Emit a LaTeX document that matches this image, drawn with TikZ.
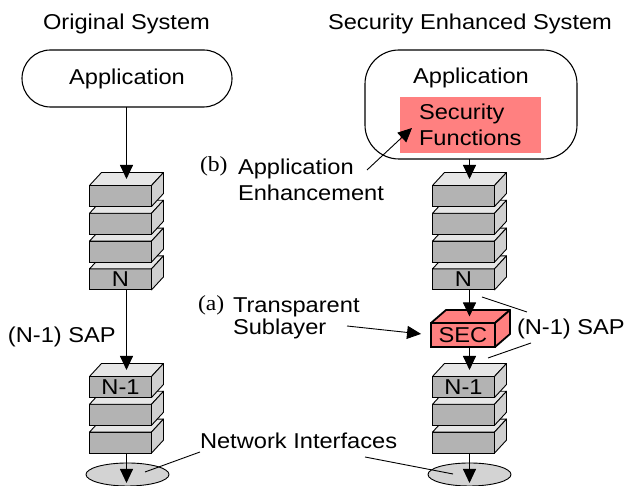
\documentclass[tikz,border=0pt]{standalone}
\usepackage{fontspec}
\setmainfont{Liberation Sans}[FakeStretch=1.1]
\newfontfamily\tagfont{Liberation Serif}[FakeStretch=1.1]
\usetikzlibrary{arrows.meta,calc,shapes.geometric}
\definecolor{secred}{HTML}{FF8080}
\definecolor{facefront}{HTML}{B3B3B3}
\definecolor{facetop}{HTML}{E6E6E6}
\definecolor{faceside}{HTML}{D0D0D0}
\definecolor{ifgray}{HTML}{D3D3D3}

% one protocol layer: front face as a node, top and side faces around it
\newcommand{\layerbox}[4]{%
    \node (#1) [layer] at (#2, #3) {#4};
    \draw[face, fill=facetop] (#1.north west) -- ++(12, 13) -- ($(#1.north east) + (12, 13)$) -- (#1.north east) -- cycle;
    \draw[face, fill=faceside] (#1.north east) -- ++(12, 13) -- ++(0, -21) -- (#1.south east) -- cycle;
    \coordinate (#1_top) at ($(#1.north) + (6, 6.5)$);
    \coordinate (#1_bot) at ($(#1.south) + (6, 0)$);
}

\begin{document}
\begin{tikzpicture}[x=1pt, y=1pt,
    every node/.style={
        font=\fontsize{21.5}{26}\selectfont,
        inner sep=0pt,
        outer sep=0pt
    },
    layer/.style={rectangle, draw, fill=facefront, line width=0.9pt,
        minimum width=62pt, minimum height=21pt},
    face/.style={draw, line width=0.9pt, line join=round},
    app/.style={rectangle, draw, line width=1.1pt},
    netif/.style={ellipse, draw, fill=ifgray, line width=0.9pt,
        minimum width=83pt, minimum height=23pt},
    flow/.style={-{Triangle[length=14pt, width=13pt]}, line width=0.9pt},
    leader/.style={line width=0.9pt}
]
    \useasboundingbox (0, 0) rectangle (625, 486);

    % titles
    \node (title_orig) [anchor=base] at (126.5, 456) {Original System};
    \node (title_sec) [anchor=base] at (470, 456) {Security Enhanced System};

    % original system
    \node (app_orig) [app, minimum width=210pt, minimum height=57pt, rounded corners=28.5pt]
        at (127, 407.5) {Application};
    \node (netif_orig) [netif] at (127.5, 11.5) {};
    \layerbox{orig_l3}{120.5}{43.4}{}
    \layerbox{orig_l2}{120.5}{71.2}{}
    \layerbox{orig_n1}{120.5}{99}{N-1}
    \layerbox{orig_n}{120.5}{206.6}{N}
    \layerbox{orig_u3}{120.5}{234.4}{}
    \layerbox{orig_u2}{120.5}{262.2}{}
    \layerbox{orig_u1}{120.5}{290}{}

    % security enhanced system
    \node (app_sec) [app, minimum width=212pt, minimum height=109pt, rounded corners=34pt]
        at (471, 381.5) {};
    \node (app_sec_label) at (471, 408) {Application};
    \node (sec_functions) [fill=secred, minimum width=141pt, minimum height=56pt,
        text width=103pt, inner xsep=19pt, align=left, font=\fontsize{21.5}{26}\selectfont]
        at (470.5, 361) {Security\\Functions};
    \node (netif_sec) [netif] at (469.5, 11.5) {};
    \layerbox{sec_l3}{463.5}{43.4}{}
    \layerbox{sec_l2}{463.5}{71.2}{}
    \layerbox{sec_n1}{463.5}{99}{N-1}
    \node (sec_sub) [rectangle, draw, fill=secred, line width=1.8pt,
        minimum width=64pt, minimum height=24pt] at (463, 151) {SEC};
    \draw[line width=1.8pt, line join=round, fill=secred] (sec_sub.north west) -- ++(15, 13)
        -- ($(sec_sub.north east) + (15, 13)$) -- (sec_sub.north east) -- cycle;
    \draw[line width=1.8pt, line join=round, fill=secred] (sec_sub.north east) -- ++(15, 13)
        -- ++(0, -24) -- (sec_sub.south east) -- cycle;
    \coordinate (sec_sub_top) at ($(sec_sub.north) + (7, 6.5)$);
    \layerbox{sec_n}{463.5}{206.6}{N}
    \layerbox{sec_u3}{463.5}{234.4}{}
    \layerbox{sec_u2}{463.5}{262.2}{}
    \layerbox{sec_u1}{463.5}{290}{}

    % labels
    \node (sap_orig) [anchor=base west] at (8, 143) {(N-1) SAP};
    \node (sap_sec) [anchor=base west] at (517, 151) {(N-1) SAP};
    \node (netif_label) [anchor=base west] at (200, 37) {Network Interfaces};
    \node (tag_b) [anchor=base west, font=\fontsize{21.5}{26}\tagfont] at (200, 314) {(b)};
    \node (label_b) [anchor=north west, align=left] at (238, 327) {Application\\Enhancement};
    \node (tag_a) [anchor=base west, font=\fontsize{21.5}{26}\tagfont] at (198, 175) {(a)};
    \node (label_a) [anchor=north west, align=left, font=\fontsize{21.5}{22}\selectfont]
        at (233, 188) {Transparent\\Sublayer};

    \coordinate (b_from) at (367, 316);
    \coordinate (b_tip) at (412, 358);
    \coordinate (a_from) at (347, 160);
    \coordinate (sap_upper) at (482, 189);
    \coordinate (sap_upper_end) at (527, 174);
    \coordinate (sap_lower) at (488, 128);
    \coordinate (sap_lower_end) at (531, 143);
    \coordinate (netif_from_l) at (200, 34);
    \coordinate (netif_to_l) at (145, 14);
    \coordinate (netif_from_r) at (365, 29);
    \coordinate (netif_to_r) at (453, 12);

    % data flow
    \draw[flow] (orig_u1_top |- app_orig.south) -- (orig_u1_top);
    \draw[flow] (orig_n_bot) -- (orig_n1_top);
    \draw[flow, shorten >=3pt] (orig_l3_bot) -- (orig_l3_bot |- netif_orig.south);
    \draw[flow] (sec_u1_top |- app_sec.south) -- (sec_u1_top);
    \draw[flow] (sec_n_bot) -- (sec_n_bot |- sec_sub_top);
    \draw[flow] (sec_n1_top |- sec_sub.south) -- (sec_n1_top);
    \draw[flow, shorten >=3pt] (sec_l3_bot) -- (sec_l3_bot |- netif_sec.south);

    % leaders
    \draw[flow] (b_from) -- (b_tip);
    \draw[flow, shorten >=10pt] (a_from) -- (sec_sub.west);
    \draw[leader] (sap_upper) -- (sap_upper_end);
    \draw[leader] (sap_lower) -- (sap_lower_end);
    \draw[leader] (netif_from_l) -- (netif_to_l);
    \draw[leader] (netif_from_r) -- (netif_to_r);
\end{tikzpicture}
\end{document}
